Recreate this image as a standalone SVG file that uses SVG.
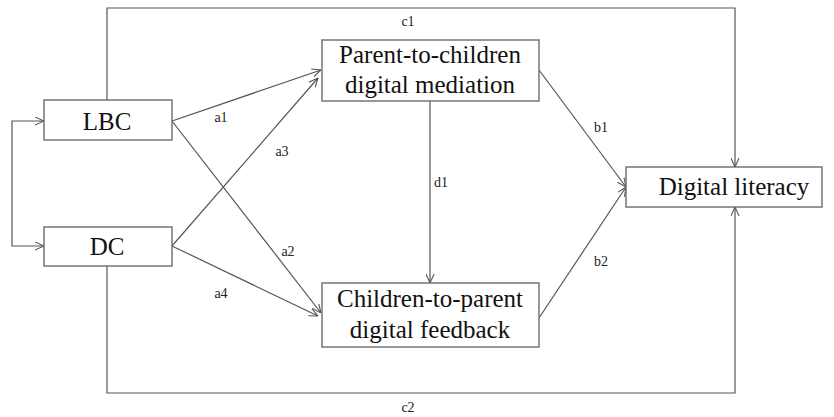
<svg xmlns="http://www.w3.org/2000/svg" width="834" height="417" viewBox="0 0 834 417">
<defs>
<style>
.box{fill:#fff;stroke:#6b6b6b;stroke-width:1.4}
.ln{fill:none;stroke:#555;stroke-width:1.2}
.t{font-family:'Liberation Serif','DejaVu Serif',serif;font-size:25px;fill:#111;text-anchor:middle}
.lb{font-family:'Liberation Serif','DejaVu Serif',serif;font-size:14px;fill:#222;text-anchor:middle}
</style>
<marker id="ah" viewBox="0 0 10 10" refX="10" refY="5" markerWidth="9" markerHeight="9" markerUnits="userSpaceOnUse" orient="auto-start-reverse">
<path d="M0,0.5 L10,5 L0,9.5" fill="none" stroke="#555" stroke-width="1.2"/>
</marker>
</defs>
<rect width="834" height="417" fill="#fff"/>
<g id="connectors">
<path class="ln" d="M44,121 H12 V246 H44" marker-start="url(#ah)" marker-end="url(#ah)"/>
<path class="ln" d="M107,100 V8 H735 V167" marker-end="url(#ah)"/>
<path class="ln" d="M107,266 V393 H735 V207" marker-end="url(#ah)"/>
<line class="ln" x1="172" y1="121" x2="321" y2="70" marker-end="url(#ah)"/>
<line class="ln" x1="172" y1="121" x2="321" y2="313" marker-end="url(#ah)"/>
<line class="ln" x1="172" y1="246" x2="318" y2="78" marker-end="url(#ah)"/>
<line class="ln" x1="172" y1="246" x2="318" y2="316" marker-end="url(#ah)"/>
<line class="ln" x1="430" y1="101" x2="430" y2="283" marker-end="url(#ah)"/>
<line class="ln" x1="539" y1="70" x2="626" y2="187" marker-end="url(#ah)"/>
<line class="ln" x1="539" y1="318" x2="626" y2="187" marker-end="url(#ah)"/>
<text class="lb" x="408" y="26">c1</text>
<text class="lb" x="408" y="412">c2</text>
<text class="lb" x="221" y="122">a1</text>
<text class="lb" x="282" y="156">a3</text>
<text class="lb" x="288" y="256">a2</text>
<text class="lb" x="221" y="298">a4</text>
<text class="lb" x="441" y="187">d1</text>
<text class="lb" x="601" y="132">b1</text>
<text class="lb" x="601" y="266">b2</text>
</g>
<g id="lbc">
<rect class="box" x="44" y="100" width="128" height="40"/>
<text class="t" x="107" y="130">LBC</text>
</g>
<g id="dc">
<rect class="box" x="44" y="227" width="128" height="39"/>
<text class="t" x="107" y="255">DC</text>
</g>
<g id="mediation">
<rect class="box" x="322" y="40" width="217" height="61"/>
<text class="t" x="430" y="63">Parent-to-children</text>
<text class="t" x="430" y="93">digital mediation</text>
</g>
<g id="feedback">
<rect class="box" x="322" y="283" width="217" height="64"/>
<text class="t" x="430" y="307">Children-to-parent</text>
<text class="t" x="430" y="338">digital feedback</text>
</g>
<g id="literacy">
<rect class="box" x="626" y="167" width="196" height="40"/>
<text class="t" x="734" y="195">Digital literacy</text>
</g>
</svg>
